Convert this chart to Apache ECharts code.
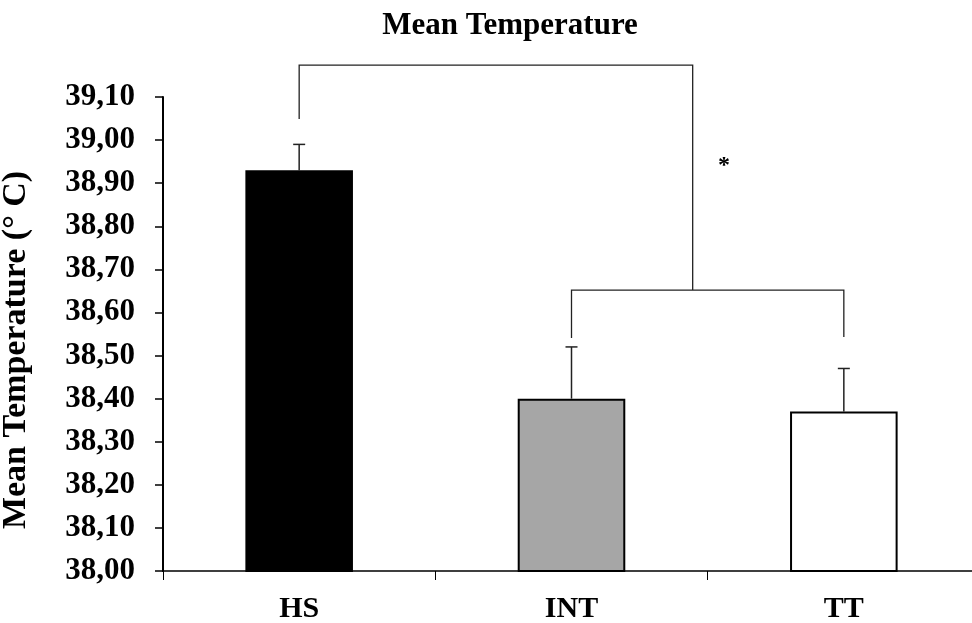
<!DOCTYPE html>
<html>
<head>
<meta charset="utf-8">
<script src="https://cdn.jsdelivr.net/npm/echarts@6/dist/echarts.min.js"></script>
<style>
  html, body { margin: 0; padding: 0; background: #fff; }
  #main { width: 972px; height: 623px; }
</style>
</head>
<body>
<div id="main"></div>
<script>
var categories = ['HS', 'INT', 'TT'];
var means = [38.93, 38.40, 38.37];
var errUpper = [38.99, 38.52, 38.47];
var barColors = ['#000000', '#a6a6a6', '#ffffff'];

// significance brackets, [category position, temperature]
var topBracket = [[0, 39.049], [0, 39.174], [1.445, 39.174], [1.445, 38.652]];
var lowBracket = [[1, 38.541], [1, 38.652], [2, 38.652], [2, 38.543]];
var starPos = [1.56, 38.94];

var serif = '"Liberation Serif", "Times New Roman", serif';
var chart = echarts.init(document.getElementById('main'));

var option = {
  backgroundColor: '#fff',
  animation: false,
  title: {
    text: 'Mean Temperature',
    left: 505,
    textAlign: 'center',
    top: 5,
    textStyle: { fontFamily: serif, fontWeight: 'bold', fontSize: 31, color: '#000' }
  },
  grid: { left: 163, width: 817, top: 97, bottom: 52, outerBoundsMode: 'none' },
  xAxis: [{
    type: 'category',
    data: categories,
    axisLine: { lineStyle: { color: '#000', width: 1.5 } },
    axisTick: { show: true, length: 9, lineStyle: { color: '#000', width: 1 } },
    axisLabel: { margin: 23, fontFamily: serif, fontWeight: 'bold', fontSize: 30, color: '#000' }
  }, {
    type: 'value',
    min: -0.5,
    max: 2.5,
    show: false
  }],
  yAxis: {
    type: 'value',
    min: 38,
    max: 39.1,
    interval: 0.1,
    name: 'Mean Temperature (° C)',
    nameLocation: 'middle',
    nameGap: 130,
    nameTextStyle: { fontFamily: serif, fontWeight: 'bold', fontSize: 34, color: '#000', padding: [0, 32, 0, 0] },
    axisLine: { show: true, onZero: false, lineStyle: { color: '#000', width: 2 } },
    axisTick: { show: true, length: 8, lineStyle: { color: '#000', width: 1.5 } },
    splitLine: { show: false },
    axisLabel: {
      margin: 28,
      fontFamily: serif, fontWeight: 'bold', fontSize: 31, color: '#000',
      formatter: function (v) { return v.toFixed(2).replace('.', ','); }
    }
  },
  series: [{
    type: 'bar',
    barWidth: '39.5%',
    data: means.map(function (v, i) {
      return { value: v, itemStyle: { color: barColors[i], borderColor: '#000', borderWidth: 2 } };
    })
  }, {
    type: 'custom',
    clip: false,
    data: errUpper.map(function (v, i) { return [i, means[i], v]; }),
    renderItem: function (params, api) {
      var base = api.coord([api.value(0), api.value(1)]);
      var top = api.coord([api.value(0), api.value(2)]);
      var style = { stroke: '#222', lineWidth: 1.5 };
      return {
        type: 'group',
        children: [
          { type: 'line', shape: { x1: base[0], y1: base[1], x2: top[0], y2: top[1] }, style: style },
          { type: 'line', shape: { x1: top[0] - 6, y1: top[1], x2: top[0] + 6, y2: top[1] }, style: style }
        ]
      };
    }
  }, {
    type: 'custom',
    xAxisIndex: 1,
    clip: false,
    data: [0],
    renderItem: function (params, api) {
      var toPts = function (arr) { return arr.map(function (p) { return api.coord(p); }); };
      var s = api.coord(starPos);
      var style = { stroke: '#222', lineWidth: 1.3, fill: null };
      return {
        type: 'group',
        children: [
          { type: 'polyline', shape: { points: toPts(topBracket) }, style: style },
          { type: 'polyline', shape: { points: toPts(lowBracket) }, style: style },
          { type: 'text', x: s[0], y: s[1], style: { text: '*', fill: '#000', font: 'bold 24px ' + serif, align: 'center', verticalAlign: 'middle' } }
        ]
      };
    }
  }]
};

chart.setOption(option);
</script>
</body>
</html>
